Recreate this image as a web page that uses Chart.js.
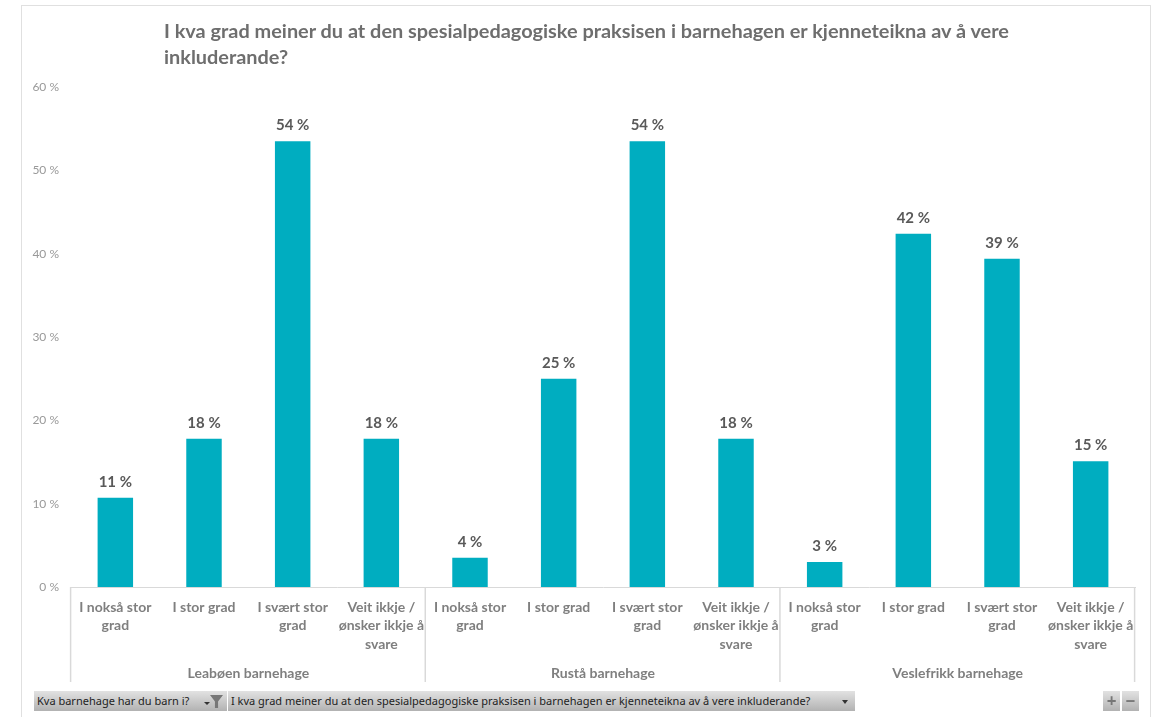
<!DOCTYPE html>
<html>
<head>
<meta charset="utf-8">
<title>Spesialpedagogisk praksis</title>
<script src="https://cdn.jsdelivr.net/npm/chart.js@4"></script>
<style>
  html, body { margin: 0; padding: 0; background: #fff; overflow: hidden; }
  #wrap { position: relative; width: 1161px; height: 717px; font-family: Lato, sans-serif; }
  #frame { position: absolute; left: 21px; top: 5px; width: 1128px; height: 720px; border: 1px solid #e0e0e0; }
  canvas { position: absolute; left: 0; top: 0; }
  h1 { position: absolute; left: 164px; top: 17px; margin: 0; font-size: 19.9px; line-height: 26px; font-weight: 700; color: #6e6e6e; white-space: nowrap; }
  .btn { position: absolute; top: 691px; height: 20px; line-height: 20px; font-family: "Noto Sans", sans-serif; font-size: 11px; color: #222; background: linear-gradient(#e2e2e2, #b2b2b2); white-space: nowrap; box-sizing: border-box; padding-left: 3px; }
  .sym { text-align: center; padding: 0; color: #777; font-size: 17px; font-weight: 700; }
  .arrow { position: absolute; top: 9px; width: 0; height: 0; border-left: 3px solid transparent; border-right: 3px solid transparent; border-top: 4px solid #333; }
  .funnel { position: absolute; left: 176px; top: 4px; width: 13px; height: 13px; background: #777; clip-path: polygon(0 0, 100% 0, 62% 50%, 62% 100%, 38% 100%, 38% 50%); }
</style>
</head>
<body>
<div id="wrap">
  <div id="frame"></div>
  <canvas id="kvaChart" width="1161" height="717"></canvas>
  <h1>I kva grad meiner du at den spesialpedagogiske praksisen i barnehagen er kjenneteikna av å vere<br>inkluderande?</h1>
  <div class="btn" style="left:34px;width:193px">Kva barnehage har du barn i?<span class="arrow" style="left:170px;top:11px;border-top-width:3px"></span><span class="funnel"></span></div>
  <div class="btn" style="left:228px;width:627px">I kva grad meiner du at den spesialpedagogiske praksisen i barnehagen er kjenneteikna av å vere inkluderande?<span class="arrow" style="left:614px"></span></div>
  <div class="btn sym" style="left:1103px;width:17px">+</div>
  <div class="btn sym" style="left:1122px;width:17px">−</div>
</div>
<script>
const answers = [
  ["I nokså stor", "grad"],
  ["I stor grad"],
  ["I svært stor", "grad"],
  ["Veit ikkje /", "ønsker ikkje å", "svare"],
];
const groups = ["Leabøen barnehage", "Rustå barnehage", "Veslefrikk barnehage"];
const categories = [...answers, ...answers, ...answers];
const percentValues = [10.7, 17.8, 53.5, 17.8, 3.5, 25, 53.5, 17.8, 3, 42.4, 39.4, 15.1];
const yTicks = [0, 10, 20, 30, 40, 50, 60];

// chart.js has no multi level axis, so the group labels and dividers go here
const groupAxis = {
  id: "groupAxis",
  afterDraw(chart) {
    const ctx = chart.ctx;
    const x = chart.scales.x;
    const top = x.top;
    const step = x.width / categories.length;
    ctx.save();
    ctx.strokeStyle = "#d9d9d9";
    ctx.lineWidth = 1.5;
    ctx.fillStyle = "#7f7f7f";
    ctx.font = "700 14px Lato";
    ctx.textAlign = "center";
    ctx.textBaseline = "middle";
    for (let i = 0; i <= groups.length; i++) {
      const px = x.left + i * answers.length * step - 0.4;
      ctx.beginPath();
      ctx.moveTo(px, top);
      ctx.lineTo(px, top + 95);
      ctx.stroke();
      if (i < groups.length) {
        ctx.fillText(groups[i], x.left + (i + 0.5) * answers.length * step, top + 86);
      }
    }
    ctx.restore();
  },
};

const valueLabels = {
  id: "valueLabels",
  afterDatasetsDraw(chart) {
    const ctx = chart.ctx;
    ctx.save();
    ctx.fillStyle = "#595959";
    ctx.font = "700 15px Lato";
    ctx.textAlign = "center";
    ctx.textBaseline = "bottom";
    chart.getDatasetMeta(0).data.forEach((bar, i) => {
      ctx.fillText(Math.round(percentValues[i]) + " %", bar.x, bar.y - 8.5);
    });
    ctx.restore();
  },
};

new Chart(document.getElementById("kvaChart"), {
  type: "bar",
  data: {
    labels: categories,
    datasets: [
      {
        label: "Prosent",
        data: percentValues,
        backgroundColor: "#00adc0",
        barPercentage: 0.4,
        categoryPercentage: 1,
      },
    ],
  },
  options: {
    responsive: false,
    animation: false,
    layout: {
      padding: { left: 21, top: 87, right: 26, bottom: 0 },
    },
    plugins: {
      legend: { display: false },
      tooltip: { enabled: false },
    },
    scales: {
      x: {
        afterFit(scale) {
          scale.height = 130;
        },
        grid: { display: false },
        border: { color: "#d9d9d9" },
        ticks: {
          color: "#7f7f7f",
          autoSkip: false,
          maxRotation: 0,
          padding: 3,
          font: { family: "Lato", size: 14, weight: "700", lineHeight: 1.33 },
        },
      },
      y: {
        min: 0,
        max: 60,
        afterFit(scale) {
          scale.width = 50;
        },
        grid: { display: false },
        border: { display: false },
        afterBuildTicks(scale) {
          scale.ticks = yTicks.map((value) => ({ value }));
        },
        ticks: {
          color: "#999999",
          padding: 4,
          callback: (value) => value + " %",
          font: { family: "Lato", size: 12 },
        },
      },
    },
  },
  plugins: [groupAxis, valueLabels],
});
</script>
</body>
</html>
